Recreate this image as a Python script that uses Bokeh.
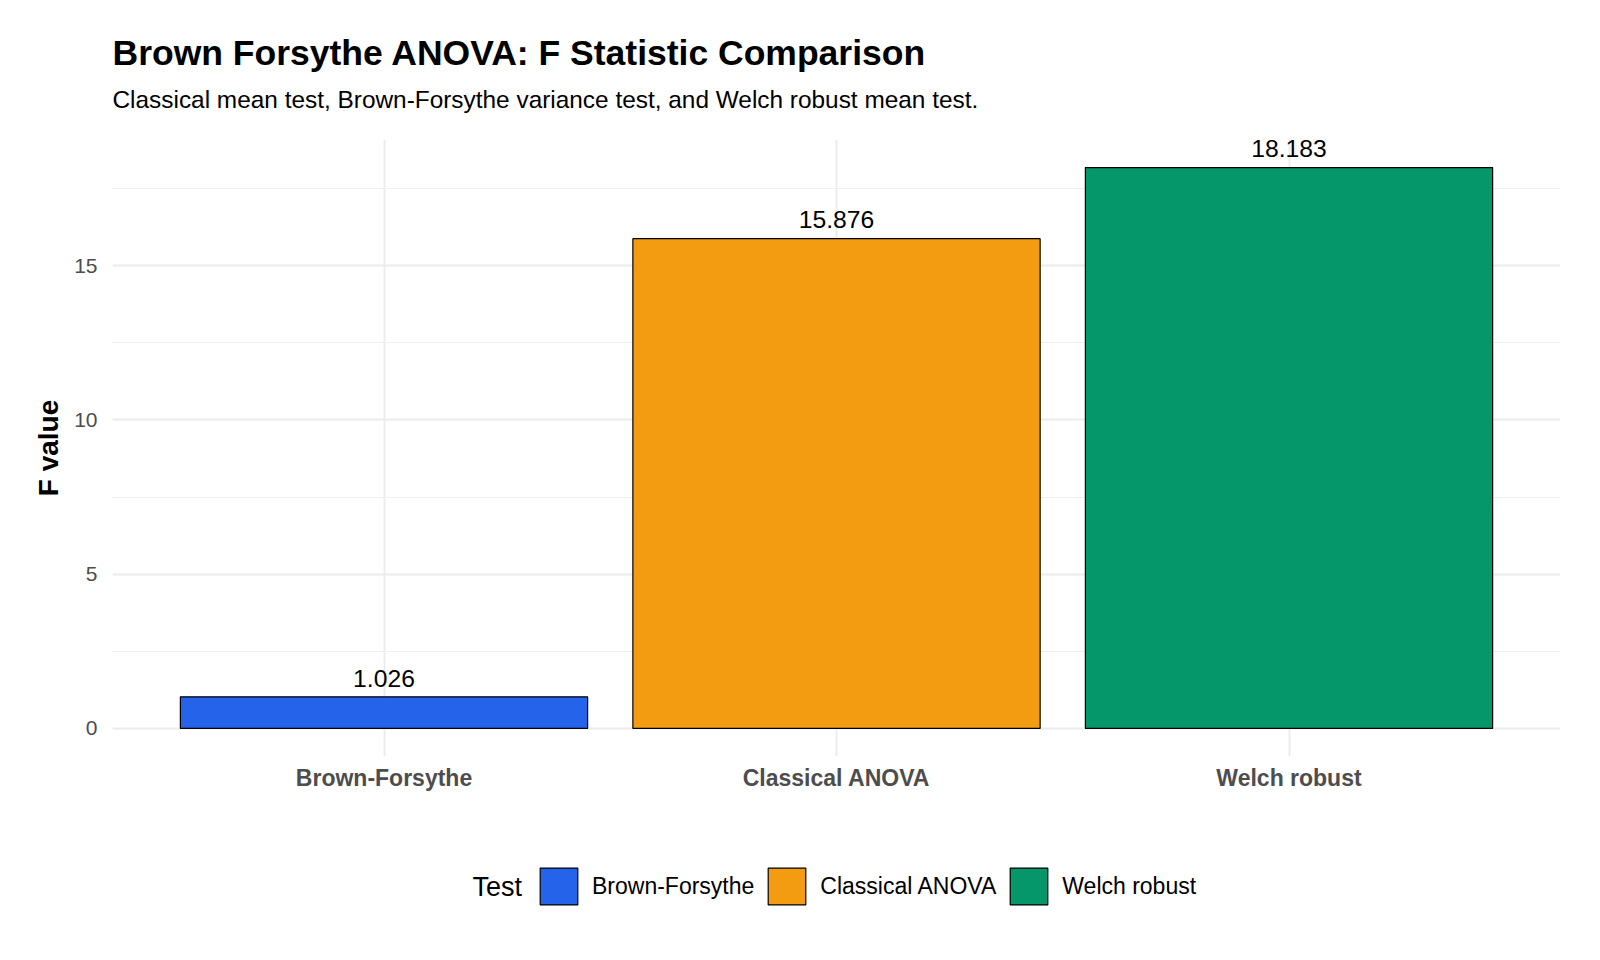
from bokeh.plotting import figure
from bokeh.layouts import column
from bokeh.models import (FactorRange, Range1d, ColumnDataSource, Legend, LegendItem,
                          Label, SingleIntervalTicker)
from bokeh.embed import file_html
from bokeh.resources import INLINE
from bokeh.core.properties import value

# ---- data ----
tests = ["Brown-Forsythe", "Classical ANOVA", "Welch robust"]
f_values = [1.026, 15.876, 18.183]
bar_colors = ["#2563EB", "#F39C12", "#059669"]
value_labels = ["1.026", "15.876", "18.183"]

title_text = "Brown Forsythe ANOVA: F Statistic Comparison"
subtitle_text = "Classical mean test, Brown-Forsythe variance test, and Welch robust mean test."
legend_title = "Test"
y_title = "F value"
FONT = "Liberation Sans"

src = ColumnDataSource(dict(test=tests, f=f_values, color=bar_colors, lab=value_labels))

ymax = max(f_values)
pad = ymax * 0.05
xr = FactorRange(factors=tests, range_padding=0.1, range_padding_units="absolute")


def blank_strip(height, y_range):
    f = figure(width=1600, height=height, output_backend="svg", toolbar_location=None,
               x_range=xr, y_range=y_range, x_axis_location=None, y_axis_location=None,
               min_border_left=0, min_border_right=0, min_border_top=0, min_border_bottom=0)
    f.title = None
    f.outline_line_color = None
    f.grid.visible = False
    f.background_fill_color = "white"
    f.border_fill_color = "white"
    return f


# ---------------- header (title + subtitle) ----------------
hd = blank_strip(130, Range1d(0, 1))
hd.add_layout(Label(x=0, y=77.5, x_units="screen", y_units="screen", text=title_text,
                    text_font=FONT, text_font_size="35.5px", text_font_style="bold",
                    text_baseline="alphabetic", text_color="black"))
hd.add_layout(Label(x=0, y=30.7, x_units="screen", y_units="screen", text=subtitle_text,
                    text_font=FONT, text_font_size="24.4px", text_font_style="normal",
                    text_baseline="alphabetic", text_color="black"))

# ---------------- main plot ----------------
p = figure(width=1600, height=670, output_backend="svg", toolbar_location=None,
           x_range=xr, y_range=Range1d(-pad, ymax + pad),
           min_border_left=112, min_border_right=40, min_border_top=9, min_border_bottom=44)
p.title = None
p.outline_line_color = None
p.background_fill_color = "white"
p.border_fill_color = "white"

bars = p.vbar(x="test", top="f", width=0.9, source=src, fill_color="color",
              line_color="black", line_width=1.2)

p.text(x="test", y="f", text="lab", source=src, text_align="center",
       text_baseline="bottom", y_offset=-10.3, text_font_size="24.7px",
       text_font=value(FONT), text_color="black")

# axes
p.yaxis.ticker = SingleIntervalTicker(interval=5, num_minor_ticks=2)
for ax in (p.xaxis, p.yaxis):
    ax.axis_line_color = None
    ax.major_tick_line_color = None
    ax.minor_tick_line_color = None
    ax.major_tick_out = 0
    ax.major_tick_in = 0
    ax.minor_tick_out = 0
    ax.major_label_text_font = FONT
    ax.major_label_text_color = "#4D4D4D"
p.yaxis.major_label_text_font_size = "21px"
p.yaxis.major_label_standoff = 15
p.yaxis.axis_label = y_title
p.yaxis.axis_label_text_font = FONT
p.yaxis.axis_label_text_font_size = "28px"
p.yaxis.axis_label_text_font_style = "bold"
p.yaxis.axis_label_text_color = "black"
p.yaxis.axis_label_standoff = 7
p.xaxis.major_label_text_font_size = "23px"
p.xaxis.major_label_text_font_style = "bold"
p.xaxis.major_label_standoff = 8

# grid
p.xgrid.grid_line_color = "#EBEBEB"
p.xgrid.grid_line_width = 1.8
p.ygrid.grid_line_color = "#EBEBEB"
p.ygrid.grid_line_width = 1.8
p.ygrid.minor_grid_line_color = "#EFEFEF"
p.ygrid.minor_grid_line_width = 1.1

# ---------------- legend strip ----------------
lg = blank_strip(160, Range1d(-1001, -1000))
# key swatches take their style from these (hidden) bars of the same source
keys = lg.vbar(x="test", top="f", width=0.9, source=src, fill_color="color",
               line_color="black", line_width=1.2)
keys.visible = False

items = [LegendItem(label=t, renderers=[keys], index=i) for i, t in enumerate(tests)]
legend = Legend(items=items, orientation="horizontal", location=(423, 50.6),
                padding=0, margin=0, spacing=9, label_standoff=10,
                glyph_width=47, glyph_height=46,
                label_text_font=FONT, label_text_font_size="23px",
                label_text_color="black",
                border_line_color=None, background_fill_alpha=0)
lg.add_layout(legend, "center")
lg.add_layout(Label(x=360, y=73.5, x_units="screen", y_units="screen", text=legend_title,
                    text_font=FONT, text_font_size="27px", text_baseline="middle",
                    text_color="black"))

layout = column(hd, p, lg, spacing=0)
open("out.html", "w").write(file_html(layout, INLINE))
